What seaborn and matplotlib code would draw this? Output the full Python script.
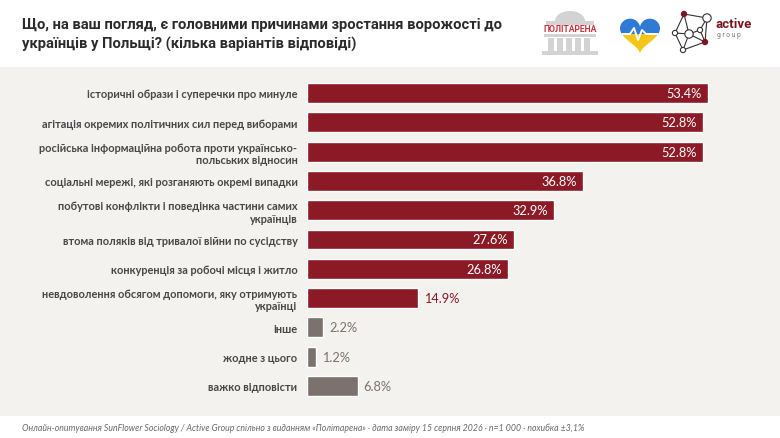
import numpy as np
import pandas as pd
import matplotlib
matplotlib.use("Agg")
import matplotlib.pyplot as plt
import seaborn as sns
from matplotlib.patches import Rectangle, Polygon, Circle, Ellipse

# ---- data ----
categories = [
    "історичні образи і суперечки про минуле",
    "агітація окремих політичних сил перед виборами",
    "російська інформаційна робота проти українсько-\nпольських відносин",
    "соціальні мережі, які розганяють окремі випадки",
    "побутові конфлікти і поведінка частини самих\nукраїнців",
    "втома поляків від тривалої війни по сусідству",
    "конкуренція за робочі місця і житло",
    "невдоволення обсягом допомоги, яку отримують\nукраїнці",
    "інше",
    "жодне з цього",
    "важко відповісти",
]
values = [53.4, 52.8, 52.8, 36.8, 32.9, 27.6, 26.8, 14.9, 2.2, 1.2, 6.8]
groups = ["reason"] * 8 + ["other"] * 3
value_labels = ["53.4%", "52.8%", "52.8%", "36.8%", "32.9%", "27.6%", "26.8%",
                "14.9%", "2.2%", "1.2%", "6.8%"]

title = ("Що, на ваш погляд, є головними причинами зростання ворожості до\n"
         "українців у Польщі? (кілька варіантів відповіді)")
footer = ("Онлайн-опитування SunFlower Sociology / Active Group спільно з виданням "
          "«Політарена» · дата заміру 15 серпня 2026 · n=1 000 · похибка ±3,1%")

RED = "#8B1A26"
GRAY = "#7B726E"
BG = "#F4F2EF"
LABEL = "#474747"

df = pd.DataFrame({"category": categories, "value": values, "group": groups})

sns.set_theme(style="white")
plt.rcParams["font.family"] = ["Lato", "DejaVu Sans"]

W, H = 780, 439
fig = plt.figure(figsize=(W / 100, H / 100), dpi=100)
fig.patch.set_facecolor("white")

# background / decoration layer in pixel coordinates
bg = fig.add_axes([0, 0, 1, 1], zorder=0)
bg.set_xlim(0, W)
bg.set_ylim(H, 0)
bg.axis("off")
bg.add_patch(Rectangle((0, 68), W, 349, facecolor=BG, edgecolor="none"))

# title
bg.text(22, 35, title, ha="left", va="center", fontsize=10.6, fontweight="bold",
        color="#2B2B2B", family=["Roboto", "DejaVu Sans"], linespacing=1.4)

# footer
bg.text(22, 428, footer, ha="left", va="center", fontsize=6.3, style="italic",
        color="#6A6A6A", family=["Lato", "DejaVu Sans"])

# --- Politarena logo (approximation) ---
lg = "#D3D3D3"
bg.add_patch(Ellipse((570, 22), 30, 20, facecolor=lg, edgecolor="none"))
bg.add_patch(Rectangle((546, 22), 48, 5, facecolor=lg, edgecolor="none"))
bg.add_patch(Rectangle((544, 35), 52, 3, facecolor=lg, edgecolor="none"))
for cx in [548, 557, 566, 575, 584]:
    bg.add_patch(Rectangle((cx, 39), 6, 13, facecolor=lg, edgecolor="none"))
bg.add_patch(Rectangle((542, 52), 56, 4, facecolor=lg, edgecolor="none"))
bg.add_patch(Rectangle((538, 25.5), 64, 9, facecolor="white", edgecolor="none"))
bg.text(570, 30, "ПОЛІТАРЕНА", ha="center", va="center", fontsize=6.2,
        fontweight="bold", color="#C8323C", family=["Roboto", "DejaVu Sans"])

# --- heart logo ---
t = np.linspace(0, 2 * np.pi, 200)
hx = 16 * np.sin(t) ** 3
hy = 13 * np.cos(t) - 5 * np.cos(2 * t) - 2 * np.cos(3 * t) - np.cos(4 * t)
heart = Polygon(np.column_stack([640 + hx * 1.25, 34 - hy * 1.2]), closed=True,
                facecolor="none", edgecolor="none")
bg.add_patch(heart)
top = Rectangle((615, 10), 50, 25, facecolor="#2E7BD6", edgecolor="none")
bot = Rectangle((615, 35), 50, 25, facecolor="#F5C518", edgecolor="none")
bg.add_patch(top)
bg.add_patch(bot)
top.set_clip_path(heart)
bot.set_clip_path(heart)
zz, = bg.plot([618, 630, 634, 638, 642, 646, 662], [35, 35, 29, 41, 31, 35, 35],
              color="white", lw=1.4)
zz.set_clip_path(heart)

# --- active group logo ---
nodes = {"a": (684, 15), "b": (707, 19), "c": (689, 35), "d": (705, 43),
         "e": (675, 34), "f": (700, 31), "g": (683, 51)}
edges = [("a", "b"), ("a", "e"), ("a", "c"), ("b", "f"), ("b", "d"), ("c", "f"),
         ("c", "e"), ("c", "g"), ("e", "g"), ("g", "d"), ("f", "d"), ("c", "d")]
for u, v in edges:
    bg.plot([nodes[u][0], nodes[v][0]], [nodes[u][1], nodes[v][1]],
            color="#333333", lw=0.8, zorder=2)
for k, (x, y) in nodes.items():
    if k in ("a", "d"):
        bg.add_patch(Circle((x, y), 3.2, facecolor="#7A1522", edgecolor="none", zorder=3))
    else:
        r = 4.2 if k in ("b", "c") else 2.6
        bg.add_patch(Circle((x, y), r, facecolor="white", edgecolor="#333333",
                            lw=0.8, zorder=3))
bg.text(716, 24, "active", ha="left", va="center", fontsize=9.5, fontweight="bold",
        color="#7A1522", family=["Roboto", "DejaVu Sans"])
bg.text(717, 35.5, "g r o u p", ha="left", va="center", fontsize=4.8,
        color="#777777", family=["Roboto", "DejaVu Sans"])

# ---- main chart ----
px_per_unit = 7.51
x0 = 306.5
xmax = 60
top_px, bot_px = 79.35, 401.65
ax = fig.add_axes([x0 / W, 1 - bot_px / H, xmax * px_per_unit / W,
                   (bot_px - top_px) / H], zorder=1)
ax.patch.set_alpha(0)

sns.barplot(data=df, y="category", x="value", hue="group",
            palette={"reason": RED, "other": GRAY}, dodge=False, legend=False,
            width=0.68, saturation=1, ax=ax, orient="h")

ax.set_xlim(0, xmax)
ax.set_ylim(len(categories) - 0.5, -0.5)
ax.set_xlabel("")
ax.set_ylabel("")
ax.set_xticks([])
for s in ax.spines.values():
    s.set_visible(False)
ax.tick_params(axis="y", length=0, pad=6.5)
for lbl in ax.get_yticklabels():
    lbl.set_fontsize(7.9)
    lbl.set_fontweight("bold")
    lbl.set_color(LABEL)
    lbl.set_linespacing(1.15)
    lbl.set_family(["Lato", "DejaVu Sans"])

for i, (v, lab, g) in enumerate(zip(values, value_labels, groups)):
    if v > 20:
        ax.text(v - 0.8, i, lab, ha="right", va="center", color="white",
                fontsize=9.2, family=["Lato", "DejaVu Sans"])
    else:
        col = RED if g == "reason" else GRAY
        ax.text(v + 0.8, i, lab, ha="left", va="center", color=col,
                fontsize=9.2, family=["Lato", "DejaVu Sans"])

fig.savefig("out.png", dpi=100, facecolor=fig.get_facecolor())
